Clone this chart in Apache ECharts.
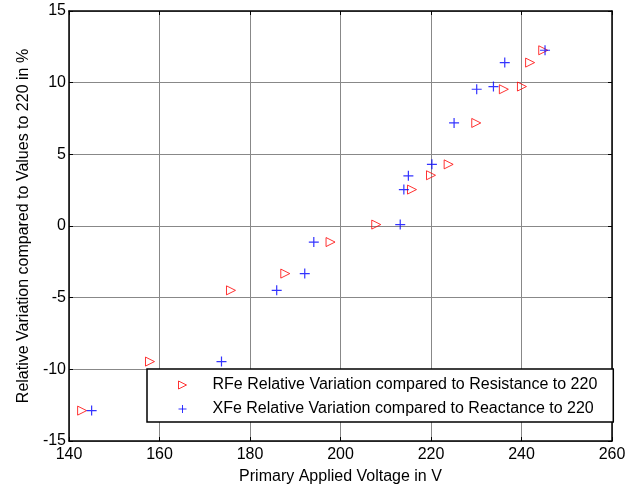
<!DOCTYPE html>
<html>
<head>
<meta charset="utf-8">
<script src="https://cdn.jsdelivr.net/npm/echarts@6/dist/echarts.min.js"></script>
<style>
  html, body { margin: 0; padding: 0; background: #fff; }
  #chart { width: 636px; height: 486px; }
</style>
</head>
<body>
<div id="chart"></div>
<script>
// values
const rfeVoltage = [142.9, 157.9, 175.8, 187.8, 197.8, 207.9, 215.8, 220.0, 223.9, 230.0, 236.1, 240.1, 241.9, 244.8]
const rfeVariation = [-12.88, -9.46, -4.49, -3.32, -1.12, 0.1, 2.54, 3.54, 4.3, 7.19, 9.54, 9.73, 11.4, 12.26]
const xfeVoltage = [145.0, 173.7, 185.9, 192.1, 194.1, 213.2, 214.0, 215.0, 220.2, 225.1, 230.1, 233.8, 236.3, 245.2]
const xfeVariation = [-12.88, -9.46, -4.49, -3.32, -1.12, 0.1, 2.54, 3.5, 4.3, 7.19, 9.54, 9.73, 11.4, 12.26]

const xTicks = [140, 160, 180, 200, 220, 240, 260]
const yTicks = [-15, -10, -5, 0, 5, 10, 15]

const rfeName = 'RFe Relative Variation compared to Resistance to 220'
const xfeName = 'XFe Relative Variation compared to Reactance to 220'

const font = 'Liberation Sans, Arial, sans-serif'
const plusPath = 'path://M0,5L10,5M5,0L5,10'
const rightTriangle = 'path://M0,0L10,5L0,10Z'

const chart = echarts.init(document.getElementById('chart'))

const baseAxis = {
  axisLine: { show: true, onZero: false, lineStyle: { color: '#000', width: 1.5 } },
  axisTick: { show: true, inside: true, length: 4, lineStyle: { color: '#000' } },
  splitLine: { show: false },
  axisLabel: { show: false }
}

const option = {
  animation: false,
  backgroundColor: '#fff',
  textStyle: { fontFamily: font },
  grid: { left: 69, right: 24, top: 11, bottom: 45, outerBoundsMode: 'none', containLabel: false },
  xAxis: [
    {
      ...baseAxis,
      type: 'value',
      min: xTicks[0],
      max: xTicks[xTicks.length - 1],
      interval: 20,
      position: 'bottom',
      name: 'Primary Applied Voltage in V',
      nameLocation: 'middle',
      nameGap: 28,
      nameTextStyle: { color: '#000', fontSize: 16, fontFamily: font },
      axisLabel: { show: true, color: '#000', fontSize: 16, fontFamily: font, margin: 6 },
      splitLine: { show: true, lineStyle: { color: '#888', width: 1 } }
    },
    {
      ...baseAxis,
      type: 'value',
      min: xTicks[0],
      max: xTicks[xTicks.length - 1],
      interval: 20,
      position: 'top'
    }
  ],
  yAxis: [
    {
      ...baseAxis,
      type: 'value',
      min: yTicks[0],
      max: yTicks[yTicks.length - 1],
      interval: 5,
      position: 'left',
      name: 'Relative Variation compared to Values to 220 in %',
      nameLocation: 'middle',
      nameGap: 37,
      nameTextStyle: { color: '#000', fontSize: 16, fontFamily: font },
      axisLabel: { show: true, color: '#000', fontSize: 16, fontFamily: font, margin: 3 },
      splitLine: { show: true, lineStyle: { color: '#888', width: 1 } }
    },
    {
      ...baseAxis,
      type: 'value',
      min: yTicks[0],
      max: yTicks[yTicks.length - 1],
      interval: 5,
      position: 'right'
    }
  ],
  legend: {
    orient: 'vertical',
    left: 147,
    top: 369,
    backgroundColor: '#fff',
    borderColor: '#000',
    borderWidth: 1.5,
    borderRadius: 0,
    padding: [8, 16, 5, 29],
    itemGap: 8,
    itemWidth: 8,
    itemHeight: 8,
    textStyle: { color: '#000', fontSize: 16, fontFamily: font, padding: [0, 0, 0, 21] },
    data: [
      { name: rfeName, icon: rightTriangle, itemStyle: { color: 'none', borderColor: '#ff0000', borderWidth: 1 } },
      { name: xfeName, icon: plusPath, itemStyle: { color: 'none', borderColor: '#0000ff', borderWidth: 1 } }
    ]
  },
  series: [
    {
      name: rfeName,
      type: 'scatter',
      xAxisIndex: 0,
      yAxisIndex: 0,
      symbol: 'triangle',
      symbolRotate: -90,
      symbolSize: 9,
      itemStyle: { color: 'none', borderColor: '#ff0000', borderWidth: 1 },
      data: rfeVoltage.map((v, i) => [v, rfeVariation[i]])
    },
    {
      name: xfeName,
      type: 'scatter',
      xAxisIndex: 0,
      yAxisIndex: 0,
      symbol: plusPath,
      symbolSize: 10,
      itemStyle: { color: 'none', borderColor: '#0000ff', borderWidth: 1.2 },
      data: xfeVoltage.map((v, i) => [v, xfeVariation[i]])
    }
  ]
}

chart.setOption(option)
</script>
</body>
</html>
